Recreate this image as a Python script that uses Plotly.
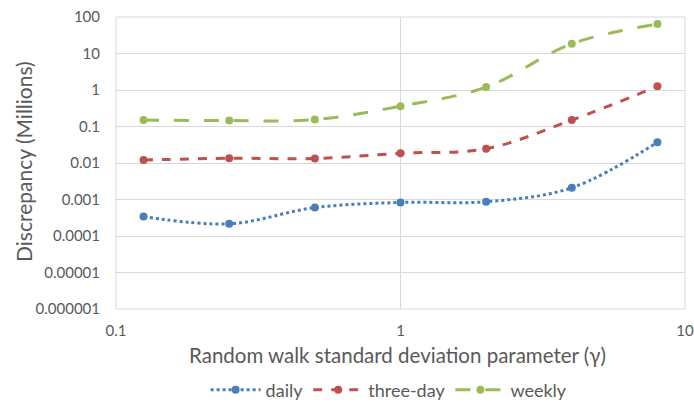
import plotly.graph_objects as go

gamma = [0.125, 0.25, 0.5, 1, 2, 4, 8]
daily = [0.00034, 0.000215, 0.0006, 0.00083, 0.00087, 0.0021, 0.037]
three_day = [0.012, 0.0135, 0.0132, 0.0185, 0.0246, 0.15, 1.26]
weekly = [0.15, 0.145, 0.155, 0.36, 1.2, 18.5, 64]

y_ticks = [100, 10, 1, 0.1, 0.01, 0.001, 0.0001, 0.00001, 0.000001]
y_labels = ["100", "10", "1", "0.1", "0.01", "0.001", "0.0001", "0.00001", "0.000001"]
x_ticks = [0.1, 1, 10]
x_labels = ["0.1", "1", "10"]

font = "Lato, 'Open Sans', sans-serif"
gray = "#595959"

fig = go.Figure()
fig.add_trace(go.Scatter(x=gamma, y=daily, name="daily", mode="lines+markers",
                         line=dict(color="#4A7EBB", width=3, dash="dot", shape="spline"),
                         marker=dict(size=8, color="#4A7EBB")))
fig.add_trace(go.Scatter(x=gamma, y=three_day, name="three-day", mode="lines+markers",
                         line=dict(color="#C0504D", width=3, dash="dash", shape="spline"),
                         marker=dict(size=8, color="#C0504D")))
fig.add_trace(go.Scatter(x=gamma, y=weekly, name="weekly", mode="lines+markers",
                         line=dict(color="#9BBB59", width=3, dash="longdash", shape="spline"),
                         marker=dict(size=8, color="#9BBB59")))

fig.update_layout(
    width=694, height=404,
    margin=dict(l=116, r=9, t=17, b=95, autoexpand=False),
    paper_bgcolor="white", plot_bgcolor="white",
    font=dict(family=font, color=gray, size=15),
    showlegend=True,
    legend=dict(orientation="h", x=0.48, xanchor="center", yref="container",
                y=1 - 390 / 404, yanchor="middle",
                font=dict(size=18, color=gray), itemwidth=50, tracegroupgap=0),
    xaxis=dict(type="log", range=[-1, 1], tickvals=x_ticks, ticktext=x_labels,
               automargin=False,
               showgrid=True, gridcolor="#D9D9D9", gridwidth=1, zeroline=False,
               showline=False, ticks="outside", ticklen=8, tickcolor="rgba(0,0,0,0)",
               tickfont=dict(size=15, color=gray)),
    yaxis=dict(type="log", range=[-6, 2], tickvals=y_ticks, ticktext=y_labels,
               automargin=False,
               showgrid=True, gridcolor="#D9D9D9", gridwidth=1, zeroline=False,
               showline=False, ticks="outside", ticklen=12, tickcolor="rgba(0,0,0,0)",
               tickfont=dict(size=15, color=gray)),
    annotations=[
        dict(text="Random walk standard deviation parameter (γ)", xref="paper", yref="paper",
             x=0.495, y=-0.1575, xanchor="center", yanchor="middle", showarrow=False,
             font=dict(size=20.5, color=gray)),
        dict(text="Discrepancy (Millions)", xref="paper", yref="paper",
             x=-0.1617, y=0.507, xanchor="center", yanchor="middle", showarrow=False,
             textangle=-90, font=dict(size=21, color=gray)),
    ],
)
fig.add_shape(type="rect", xref="paper", yref="paper", x0=0, y0=0, x1=1, y1=1,
              line=dict(color="#D9D9D9", width=1), layer="below")

fig.write_html("out.html")
